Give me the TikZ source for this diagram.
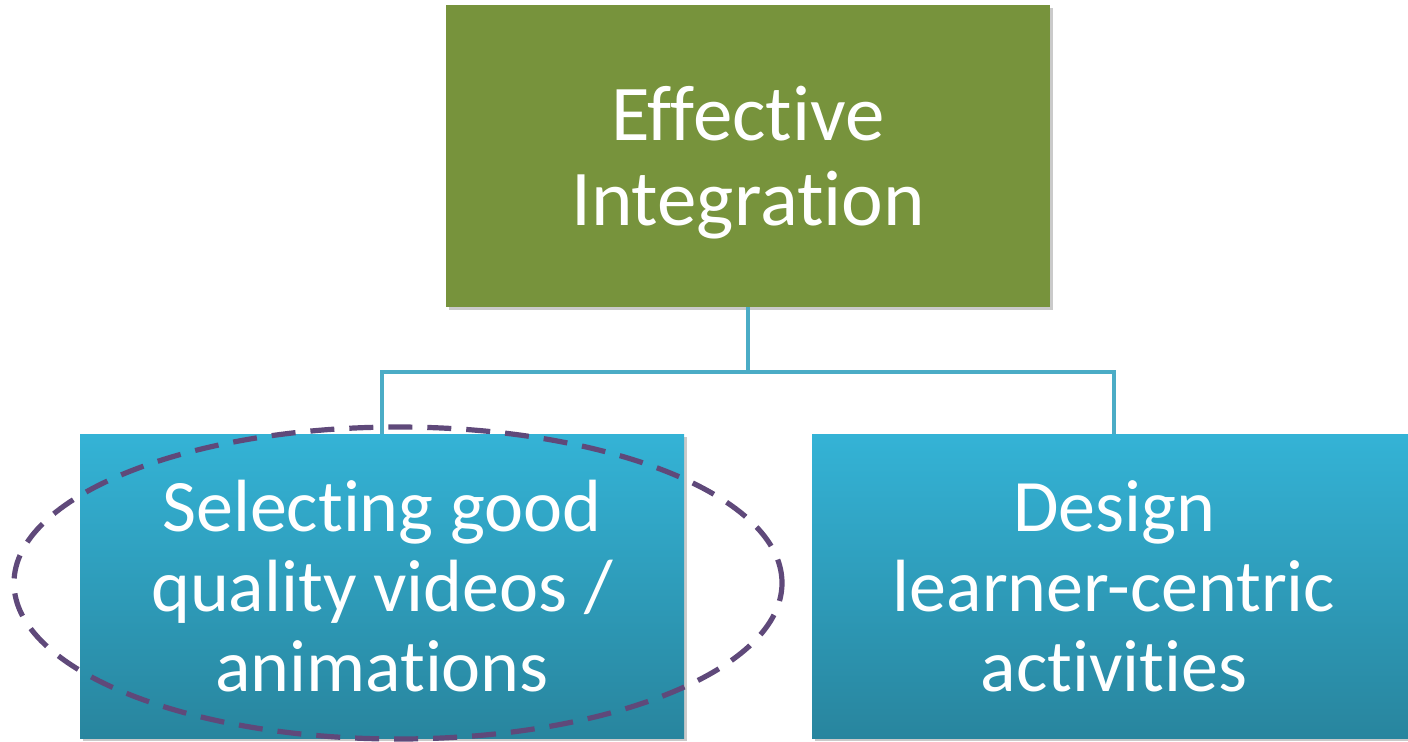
\documentclass[tikz,border=0pt]{standalone}
\usepackage{fontspec}
\setmainfont{Carlito}[Ligatures={NoCommon,NoRequired,NoContextual}]
\usetikzlibrary{shadows}
\definecolor{topgreen}{HTML}{77933C}
\definecolor{linkblue}{HTML}{4BACC6}
\definecolor{boxtop}{HTML}{34B3D6}
\definecolor{boxbot}{HTML}{28859E}
\definecolor{ringpurple}{HTML}{5F497A}
\begin{document}
\begin{tikzpicture}[x=0.5pt,y=-0.5pt,
  boxbase/.style={rectangle, inner sep=0pt, align=center, text=white,
    drop shadow={shadow xshift=1.5pt, shadow yshift=-1.5pt, opacity=0.35, fill=black!60}},
  headbox/.style={boxbase, fill=topgreen, minimum width=302pt, minimum height=151pt},
  headtext/.style={inner sep=0pt, align=center, text=white, font=\fontsize{39.5}{42.5}\selectfont},
  childbox/.style={boxbase, top color=boxtop, bottom color=boxbot, minimum width=302pt, minimum height=152pt,
    font=\fontsize{37}{40}\selectfont},
  link/.style={draw=linkblue, line width=2.2pt},
  ring/.style={draw=ringpurple, line width=2.6pt, dash pattern=on 12pt off 7.5pt}
]
\useasboundingbox (0,0) rectangle (1408,741);
\node[headbox] (top) at (748,156) {};
\node[headtext] (toptext) at ([yshift=-3.5pt]top.center) {Effective\\Integration};
\node[childbox] (left) at (382,586) {Selecting good\\quality videos /\\animations};
\node[childbox] (right) at (1114,586) {Design\\learner-centric\\activities};
\coordinate (mid) at (748,372);
\draw[link] (top.south) -- (mid) -| (left.north);
\draw[link] (mid) -| (right.north);
\draw[ring] (398,583) ellipse [x radius=192pt, y radius=78pt];
\end{tikzpicture}
\end{document}
